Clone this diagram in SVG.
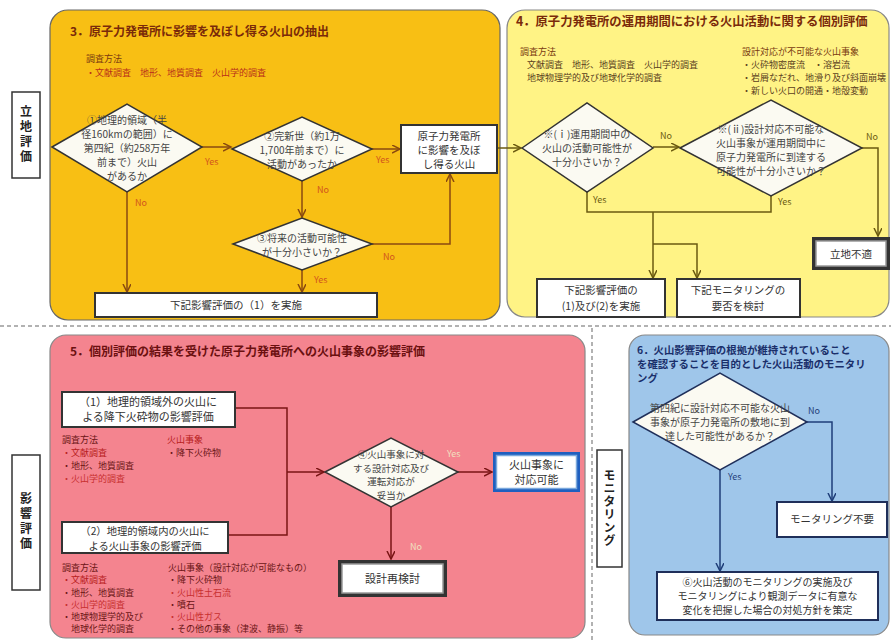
<svg xmlns="http://www.w3.org/2000/svg" width="891" height="643" viewBox="0 0 891 643">
<defs>
<style>
text{font-family:"Noto Sans CJK JP","Noto Sans",sans-serif;}
.ttl{font-size:12px;font-weight:bold;}
.sm{font-size:9px;}
.ft{font-size:10px;fill:#444;text-anchor:middle;}
.bt{font-size:10.5px;fill:#333;text-anchor:middle;}
.yn{font-size:9px;}
.dia{fill:#fbfaf2;stroke:#333;stroke-width:1.5;}
.box{fill:#fff;stroke:#333;stroke-width:2;}
.c1{stroke:#8a4a10;stroke-width:1.5;fill:none;}
.c2{stroke:#6b5a10;stroke-width:1.5;fill:none;}
.c3{stroke:#7a1515;stroke-width:1.5;fill:none;}
.c4{stroke:#1f3e79;stroke-width:1.5;fill:none;}
.vt{font-size:12px;font-weight:bold;fill:#222;writing-mode:vertical-rl;text-anchor:middle;letter-spacing:3px;}
.lab{fill:#fff;stroke:#333;stroke-width:1.5;}
</style>
<marker id="a1" markerWidth="10" markerHeight="10" refX="8" refY="4" orient="auto" markerUnits="userSpaceOnUse"><path d="M0,0 L8,4 L0,8" fill="none" stroke="#8a4a10" stroke-width="1.5"/></marker>
<marker id="a2" markerWidth="10" markerHeight="10" refX="8" refY="4" orient="auto" markerUnits="userSpaceOnUse"><path d="M0,0 L8,4 L0,8" fill="none" stroke="#6b5a10" stroke-width="1.5"/></marker>
<marker id="a3" markerWidth="10" markerHeight="10" refX="8" refY="4" orient="auto" markerUnits="userSpaceOnUse"><path d="M0,0 L8,4 L0,8" fill="none" stroke="#7a1515" stroke-width="1.5"/></marker>
<marker id="a4" markerWidth="10" markerHeight="10" refX="8" refY="4" orient="auto" markerUnits="userSpaceOnUse"><path d="M0,0 L8,4 L0,8" fill="none" stroke="#1f3e79" stroke-width="1.5"/></marker>
</defs>
<rect width="891" height="643" fill="#fff"/>

<!-- separators -->
<g id="separators" stroke="#999" stroke-width="1.5" stroke-dasharray="4 3" fill="none">
<line x1="0" y1="326" x2="891" y2="326"/>
<line x1="592" y1="328" x2="592" y2="643"/>
</g>

<!-- side labels -->
<g id="label-ritchi"><rect class="lab" x="12" y="92" width="28" height="86"/><text class="vt" x="26" y="135">立地評価</text></g>
<g id="label-eikyo"><rect class="lab" x="12" y="455" width="28" height="135"/><text class="vt" x="26" y="522">影響評価</text></g>
<g id="label-monitoring"><rect class="lab" x="597" y="450" width="25" height="117"/><text class="vt" x="609.5" y="508" style="letter-spacing:1px">モニタリング</text></g>

<!-- panels -->
<g id="panel3">
<rect x="50" y="10" width="450" height="310" rx="18" fill="#f8bf14" stroke="#666" stroke-width="1.2"/>
<text class="ttl" x="70" y="36" fill="#7a2a0a">3．原子力発電所に影響を及ぼし得る火山の抽出</text>
<text class="sm" x="86" y="62" fill="#7a3a10">調査方法</text>
<text class="sm" x="86" y="76" fill="#b8301a">・文献調査　地形、地質調査　火山学的調査</text>
</g>
<g id="panel4">
<rect x="507" y="10" width="382" height="307" rx="18" fill="#fff385" stroke="#888" stroke-width="1.2"/>
<text class="ttl" x="516" y="26" fill="#7a2a0a" style="font-size:12.3px">4．原子力発電所の運用期間における火山活動に関する個別評価</text>
<text class="sm" x="520" y="55" fill="#7a3a10">調査方法</text>
<text class="sm" x="527" y="68" fill="#5a4020">文献調査　地形、地質調査　火山学的調査</text>
<text class="sm" x="527" y="81" fill="#5a4020">地球物理学的及び地球化学的調査</text>
<text class="sm" x="742" y="55" fill="#7a3a10">設計対応が不可能な火山事象</text>
<text class="sm" x="742" y="68" fill="#5a4020">・火砕物密度流　・溶岩流</text>
<text class="sm" x="742" y="81" fill="#5a4020">・岩屑なだれ、地滑り及び斜面崩壊</text>
<text class="sm" x="742" y="94" fill="#5a4020">・新しい火口の開通・地殻変動</text>
</g>
<g id="panel5">
<rect x="50" y="335" width="535" height="303" rx="16" fill="#f4848f" stroke="#888" stroke-width="1.2"/>
<text class="ttl" x="70" y="356" fill="#6b1010">5．個別評価の結果を受けた原子力発電所への火山事象の影響評価</text>
<text class="sm" x="62" y="443" fill="#6b1515">調査方法</text>
<text class="sm" x="62" y="456" fill="#b82020">・文献調査</text>
<text class="sm" x="62" y="469" fill="#6b1515">・地形、地質調査</text>
<text class="sm" x="62" y="482" fill="#c83030">・火山学的調査</text>
<text class="sm" x="167" y="443" fill="#b82020">火山事象</text>
<text class="sm" x="167" y="456" fill="#6b1515">・降下火砕物</text>
<text class="sm" x="62" y="571" fill="#6b1515">調査方法</text>
<text class="sm" x="62" y="583" fill="#b82020">・文献調査</text>
<text class="sm" x="62" y="596" fill="#6b1515">・地形、地質調査</text>
<text class="sm" x="62" y="608" fill="#c83030">・火山学的調査</text>
<text class="sm" x="62" y="620" fill="#6b1515">・地球物理学的及び</text>
<text class="sm" x="62" y="632" fill="#6b1515">　地球化学的調査</text>
<text class="sm" x="168" y="571" fill="#6b1515">火山事象（設計対応が可能なもの）</text>
<text class="sm" x="168" y="583" fill="#6b1515">・降下火砕物</text>
<text class="sm" x="168" y="596" fill="#c83030">・火山性土石流</text>
<text class="sm" x="168" y="608" fill="#6b1515">・噴石</text>
<text class="sm" x="168" y="620" fill="#c83030">・火山性ガス</text>
<text class="sm" x="168" y="632" fill="#6b1515">・その他の事象（津波、静振）等</text>
</g>
<g id="panel6">
<rect x="629" y="335" width="260" height="300" rx="16" fill="#9fc6ea" stroke="#888" stroke-width="1.2"/>
<text class="ttl" x="637" y="354" fill="#1a2f6a" style="font-size:10.4px">6．火山影響評価の根拠が維持されていること</text>
<text class="ttl" x="637" y="368" fill="#1a2f6a" style="font-size:10.4px">を確認することを目的とした火山活動のモニタリ</text>
<text class="ttl" x="637" y="382" fill="#1a2f6a" style="font-size:10.4px">ング</text>
</g>

<!-- connectors -->
<g id="connectors">
<line class="c1" x1="202" y1="147" x2="231" y2="147" marker-end="url(#a1)"/>
<line class="c1" x1="372" y1="149" x2="400" y2="149" marker-end="url(#a1)"/>
<line class="c1" x1="302" y1="181" x2="302" y2="217" marker-end="url(#a1)"/>
<polyline class="c1" points="372,244 450,244 450,174" marker-end="url(#a1)"/>
<line class="c1" x1="302" y1="270" x2="302" y2="292" marker-end="url(#a1)"/>
<line class="c1" x1="127" y1="192" x2="127" y2="292" marker-end="url(#a1)"/>
<line class="c2" x1="497" y1="148" x2="521" y2="148" marker-end="url(#a2)"/>
<line class="c2" x1="653" y1="147" x2="679" y2="147" marker-end="url(#a2)"/>
<polyline class="c2" points="862,148 878,148 878,236" marker-end="url(#a2)"/>
<polyline class="c2" points="587,192 587,212 771,212 771,196"/>
<line class="c2" x1="653" y1="212" x2="653" y2="278" marker-end="url(#a2)"/>
<polyline class="c2" points="653,244 697,244 697,278" marker-end="url(#a2)"/>
<polyline class="c3" points="235,408 287,408 287,535 228,535"/>
<line class="c3" x1="287" y1="472" x2="324" y2="472" marker-end="url(#a3)"/>
<line class="c3" x1="458" y1="472" x2="492" y2="472" marker-end="url(#a3)"/>
<line class="c3" x1="391" y1="507" x2="391" y2="559" marker-end="url(#a3)"/>
<polyline class="c4" points="807,422 832,422 832,501" marker-end="url(#a4)"/>
<line class="c4" x1="720" y1="470" x2="720" y2="571" marker-end="url(#a4)"/>
<g class="yn" fill="#d2541e">
<text x="205" y="165">Yes</text>
<text x="376" y="163">Yes</text>
<text x="317" y="193">No</text>
<text x="383" y="260">No</text>
<text x="314" y="283">Yes</text>
<text x="135" y="206">No</text>
</g>
<g class="yn" fill="#6b5a10">
<text x="660" y="139">No</text>
<text x="866" y="140">No</text>
<text x="593" y="203">Yes</text>
<text x="778" y="205">Yes</text>
</g>
<g class="yn" fill="#f0e0c0">
<text x="447" y="457">Yes</text>
<text x="410" y="550">No</text>
</g>
<g class="yn" fill="#1f3e79">
<text x="808" y="414">No</text>
<text x="728" y="480">Yes</text>
</g>
</g>

<!-- nodes -->
<g id="q1"><polygon class="dia" points="52,147 127,104 202,147 127,192"/>
<text class="ft" x="127" y="124">①地理的領域（半</text><text class="ft" x="127" y="138">径160kmの範囲）に</text><text class="ft" x="127" y="152">第四紀（約258万年</text><text class="ft" x="127" y="166">前まで）火山</text><text class="ft" x="127" y="180">があるか</text></g>
<g id="q2"><polygon class="dia" points="232,149 302,117 372,149 302,181"/>
<text class="ft" x="302" y="140">②完新世（約1万</text><text class="ft" x="302" y="154">1,700年前まで）に</text><text class="ft" x="302" y="168">活動があったか</text></g>
<g id="q3"><polygon class="dia" points="233,244 302,218 372,244 302,270"/>
<text class="ft" x="302" y="242">③将来の活動可能性</text><text class="ft" x="302" y="256">が十分小さいか？</text></g>
<g id="b-volcano"><rect class="box" x="401" y="125" width="96" height="48"/>
<text class="bt" x="449" y="140">原子力発電所</text><text class="bt" x="449" y="154">に影響を及ぼ</text><text class="bt" x="449" y="168">し得る火山</text></g>
<g id="b-eval1"><rect class="box" x="95" y="293" width="282" height="24"/>
<text class="bt" x="236" y="309">下記影響評価の（1）を実施</text></g>

<g id="q4"><polygon class="dia" points="522,148 587,103 653,148 587,192"/>
<text class="ft" x="587" y="138">※(ⅰ)運用期間中の</text><text class="ft" x="587" y="152">火山の活動可能性が</text><text class="ft" x="587" y="166">十分小さいか？</text></g>
<g id="q5"><polygon class="dia" points="680,148 771,100 862,148 771,196"/>
<text class="ft" x="771" y="133">※(ⅱ)設計対応不可能な</text><text class="ft" x="771" y="147">火山事象が運用期間中に</text><text class="ft" x="771" y="161">原子力発電所に到達する</text><text class="ft" x="771" y="175">可能性が十分小さいか？</text></g>
<g id="b-unsuitable"><rect x="812" y="237" width="78" height="33" fill="#333"/><rect x="816" y="241" width="70" height="25" fill="#fff" stroke="#999" stroke-width="1.5"/>
<text class="bt" x="851" y="258">立地不適</text></g>
<g id="b-eval12"><rect class="box" x="537" y="279" width="128" height="38"/>
<text class="bt" x="601" y="294">下記影響評価の</text><text class="bt" x="601" y="310">(1)及び(2)を実施</text></g>
<g id="b-monreq"><rect class="box" x="677" y="279" width="123" height="38"/>
<text class="bt" x="738" y="294">下記モニタリングの</text><text class="bt" x="738" y="310">要否を検討</text></g>

<g id="b-ash"><rect class="box" x="62" y="392" width="173" height="35"/>
<text class="bt" x="148" y="406" style="font-size:11px">（1）地理的領域外の火山に</text><text class="bt" x="148" y="421" style="font-size:11px">よる降下火砕物の影響評価</text></g>
<g id="b-events"><rect class="box" x="62" y="522" width="166" height="31"/>
<text class="bt" x="145" y="535" style="font-size:10.3px">（2）地理的領域内の火山に</text><text class="bt" x="145" y="549.5" style="font-size:10.3px">よる火山事象の影響評価</text></g>
<g id="q6"><polygon class="dia" points="325,472 391,438 458,472 391,507"/>
<text class="ft" x="391" y="458" style="font-size:9.5px">④火山事象に対</text><text class="ft" x="391" y="471.5" style="font-size:9.5px">する設計対応及び</text><text class="ft" x="391" y="485" style="font-size:9.5px">運転対応が</text><text class="ft" x="391" y="498.5" style="font-size:9.5px">妥当か</text></g>
<g id="b-ok"><rect x="493" y="452" width="87" height="40" fill="#1f5fbf"/><rect x="496.5" y="455.5" width="80" height="33" fill="#fff" stroke="#7aa8dc" stroke-width="1.5"/>
<text class="bt" x="536.5" y="469" style="font-size:11px">火山事象に</text><text class="bt" x="536.5" y="484" style="font-size:11px">対応可能</text></g>
<g id="b-redesign"><rect x="338" y="560" width="109" height="37" fill="#333"/><rect x="342" y="564" width="101" height="29" fill="#fff" stroke="#999" stroke-width="1.5"/>
<text class="bt" x="392.5" y="583" style="font-size:11px">設計再検討</text></g>

<g id="q7"><polygon class="dia" points="633,422 720,373 807,422 720,470" style="stroke:#1f2f5a"/>
<text class="ft" x="720" y="412">第四紀に設計対応不可能な火山</text><text class="ft" x="720" y="426">事象が原子力発電所の敷地に到</text><text class="ft" x="720" y="440">達した可能性があるか？</text></g>
<g id="b-nomon"><rect class="box" x="777" y="502" width="110" height="35" style="stroke:#1f2f5a"/>
<text class="bt" x="832" y="523">モニタリング不要</text></g>
<g id="b-mon"><rect class="box" x="657" y="572" width="221" height="48" style="stroke:#1f2f5a"/>
<text class="bt" x="767.5" y="586" style="font-size:10px">⑥火山活動のモニタリングの実施及び</text><text class="bt" x="767.5" y="600" style="font-size:10px">モニタリングにより観測データに有意な</text><text class="bt" x="767.5" y="614" style="font-size:10px">変化を把握した場合の対処方針を策定</text></g>
</svg>
